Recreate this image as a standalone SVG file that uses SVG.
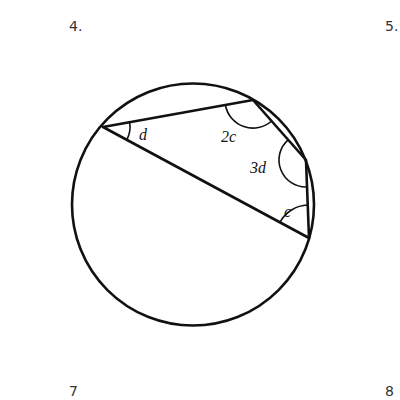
<svg xmlns="http://www.w3.org/2000/svg" width="400" height="400" viewBox="0 0 400 400">
<style>
.num{font-family:"DejaVu Sans","Liberation Sans",sans-serif;font-size:14px;fill:#333}
.lbl{font-family:"Liberation Serif",serif;font-style:italic;font-size:16px;fill:#111}
.edge{stroke:#111;stroke-width:2.6;fill:none;stroke-linecap:round;stroke-linejoin:round}
.ang{stroke:#111;stroke-width:1.6;fill:none}
</style>
<rect width="400" height="400" fill="#fff"/>
<text class="num" x="69" y="31">4.</text>
<text class="num" x="385" y="31">5.</text>
<text class="num" x="69" y="396">7</text>
<text class="num" x="385" y="396">8</text>
<g id="circle"><circle class="edge" cx="193" cy="204.5" r="121"/></g>
<g id="connectors">
<path class="edge" d="M103,127 L253,100 L306,160 L309,238 Z"/>
</g>
<g id="angles">
<path class="ang" d="M129.6,122.2 A27,27 0 0 1 126.8,139.8"/>
<path class="ang" d="M271.6,121 A28,28 0 0 1 225.4,105"/>
<path class="ang" d="M307,187 A27,27 0 0 1 288.1,139.8"/>
<path class="ang" d="M279.9,222.3 A33,33 0 0 1 307.7,205"/>
</g>
<g id="labels">
<text class="lbl" x="139" y="140">d</text>
<text class="lbl" x="221" y="142">2c</text>
<text class="lbl" x="250" y="173">3d</text>
<text class="lbl" x="284" y="217">c</text>
</g>
</svg>
